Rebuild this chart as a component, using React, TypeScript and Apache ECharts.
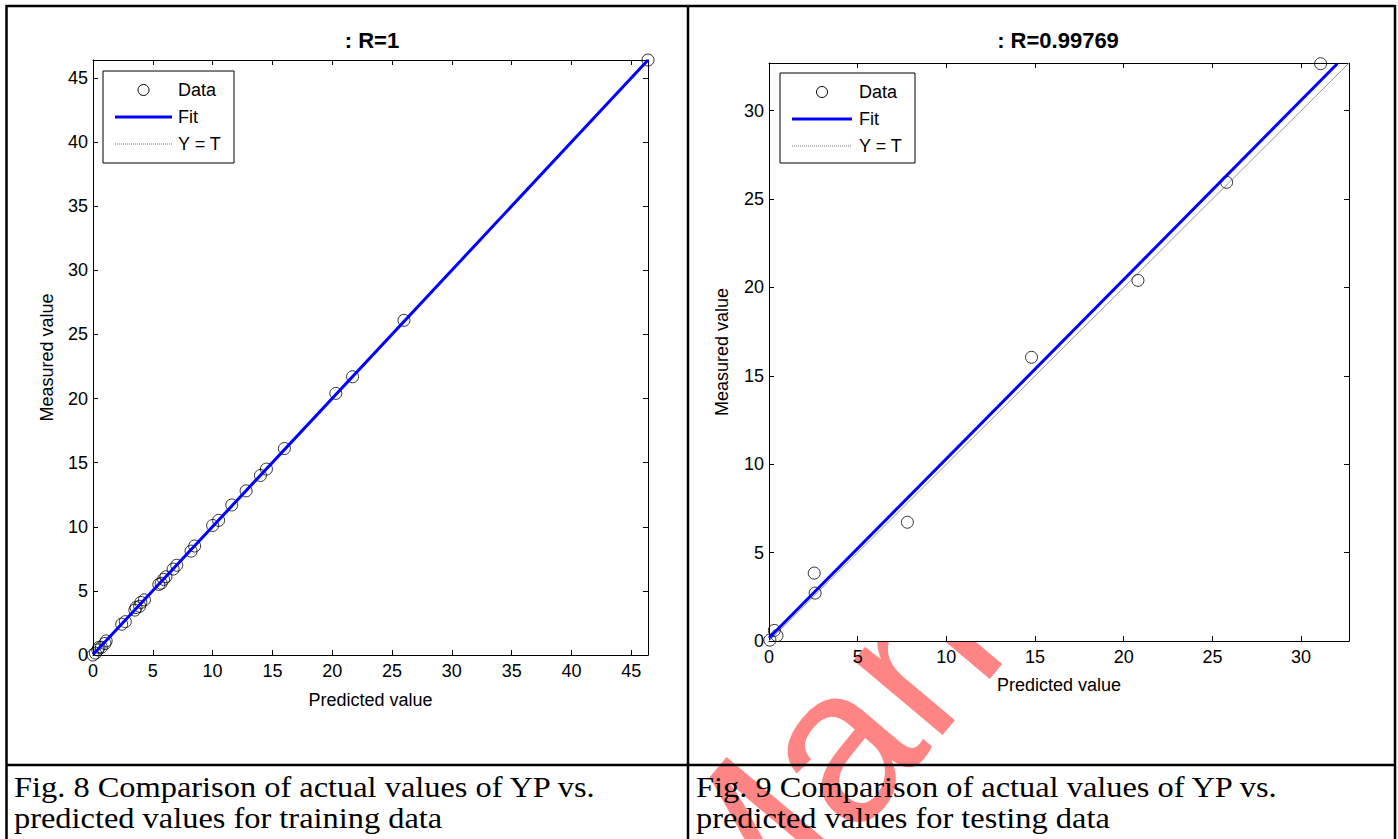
import React, { useEffect, useRef } from 'react';
import * as echarts from 'echarts';

// ---- Data ----
const trainPredicted = [0, 0.2, 0.4, 0.5, 0.7, 1.0, 1.1, 2.4, 2.7, 3.5, 3.6, 3.9, 4.0, 4.3, 5.5, 5.7, 5.9, 6.1, 6.7, 7.0, 8.2, 8.5, 10.0, 10.5, 11.6, 12.8, 14.0, 14.5, 16.0, 20.3, 21.7, 26.0, 46.4];
const trainMeasured = [0, 0.15, 0.4, 0.6, 0.6, 0.9, 1.1, 2.4, 2.6, 3.5, 3.7, 3.8, 4.1, 4.3, 5.5, 5.6, 5.9, 6.1, 6.7, 7.0, 8.1, 8.5, 10.1, 10.5, 11.7, 12.8, 14.0, 14.5, 16.1, 20.4, 21.7, 26.1, 46.4];
const trainFitT = [0, 46.4];
const trainFitY = [0.02, 46.4];
const trainRange = [0, 46.4];

const testPredicted = [0.05, 0.3, 0.45, 2.55, 2.6, 7.8, 14.8, 20.8, 25.8, 31.1];
const testMeasured = [0.05, 0.6, 0.3, 3.84, 2.71, 6.72, 16.05, 20.4, 25.95, 32.66];
const testFitT = [0, 32.04];
const testFitY = [0.17, 32.66];
const testRange = [0, 32.7];

const tickInterval = 5;
const titles = [': R=1', ': R=0.99769'];
const legendLabels = ['Data', 'Fit', 'Y = T'];
const xAxisName = 'Predicted value';
const yAxisName = 'Measured value';
const captions = [
  ['Fig. 8 Comparison of actual values of YP vs.', 'predicted values for training data'],
  ['Fig. 9 Comparison of actual values of YP vs.', 'predicted values for testing data'],
];
const watermarkText = 'Manu';

const SANS = '"Liberation Sans", Arial, sans-serif';
const SERIF = '"Liberation Serif", "Times New Roman", serif';

function pairs(a: number[], b: number[]) {
  return a.map((v, i) => [v, b[i]]);
}

function makeAxes(gridIndex: number, range: number[], xGap: number, yGap: number) {
  const common: any = {
    type: 'value',
    gridIndex,
    min: range[0],
    max: range[1],
    interval: tickInterval,
    splitLine: { show: false },
    axisLine: { show: true, onZero: false, lineStyle: { color: '#000', width: 1 } },
    axisTick: { show: true, inside: true, length: 5, lineStyle: { color: '#000', width: 1 } },
  };
  const labelStyle = { color: '#000', fontSize: 18, fontFamily: SANS, showMaxLabel: false };
  const nameStyle = { color: '#000', fontSize: 18, fontFamily: SANS };
  const x = [
    { ...common, position: 'bottom', name: xAxisName, nameLocation: 'middle', nameGap: xGap, nameTextStyle: nameStyle, axisLabel: { ...labelStyle, margin: 7 } },
    { ...common, position: 'top', axisLabel: { show: false } },
  ];
  const y = [
    { ...common, position: 'left', name: yAxisName, nameLocation: 'middle', nameGap: yGap, nameTextStyle: nameStyle, axisLabel: { ...labelStyle, margin: 5 } },
    { ...common, position: 'right', axisLabel: { show: false } },
  ];
  return { x, y };
}

function makeSeries(axisIndex: number, range: number[], pts: number[][], fit: number[][]) {
  return [
    {
      type: 'line', xAxisIndex: axisIndex, yAxisIndex: axisIndex, z: 2,
      data: [[range[0], range[0]], [range[1], range[1]]],
      showSymbol: false, symbol: 'none',
      lineStyle: { color: '#9a9a9a', width: 1 },
    },
    {
      type: 'scatter', xAxisIndex: axisIndex, yAxisIndex: axisIndex, z: 3,
      data: pts, symbol: 'circle', symbolSize: 12,
      itemStyle: { color: 'rgba(0,0,0,0)', borderColor: '#000', borderWidth: 1 },
    },
    {
      type: 'line', xAxisIndex: axisIndex, yAxisIndex: axisIndex, z: 4,
      data: fit, showSymbol: false, symbol: 'none',
      lineStyle: { color: '#0000ff', width: 3 },
    },
  ];
}

function legendGroup(bx: number, by: number, bw: number, bh: number, lineX0: number, lineX1: number, textX: number) {
  const markX = (lineX0 + lineX1) / 2;
  const rows = [by + 19, by + 46, by + 73];
  return {
    type: 'group', z: 20,
    children: [
      { type: 'rect', z: 20, shape: { x: bx, y: by, width: bw, height: bh }, style: { fill: '#fff', stroke: '#000', lineWidth: 1 } },
      { type: 'circle', z: 21, shape: { cx: markX, cy: rows[0], r: 5.5 }, style: { fill: 'none', stroke: '#000', lineWidth: 1 } },
      { type: 'line', z: 21, shape: { x1: lineX0, y1: rows[1], x2: lineX1, y2: rows[1] }, style: { stroke: '#0000ff', lineWidth: 3 } },
      { type: 'line', z: 21, shape: { x1: lineX0, y1: rows[2], x2: lineX1, y2: rows[2] }, style: { stroke: '#777', lineWidth: 1, lineDash: [1, 1] } },
      ...legendLabels.map((t, i) => ({
        type: 'text', z: 21, x: textX, y: rows[i],
        style: { text: t, fill: '#000', fontSize: 18, fontFamily: SANS, textAlign: 'left', align: 'left', textVerticalAlign: 'middle', verticalAlign: 'middle' },
      })),
    ],
  };
}

function captionTexts(x: number, lines: string[]) {
  return lines.map((t, i) => ({
    type: 'text', z: 10, x, y: 787 + i * 31, scaleX: 1.08, scaleY: 1,
    style: { text: t, fill: '#000', fontSize: 30, fontFamily: SERIF, textAlign: 'left', align: 'left', textVerticalAlign: 'middle', verticalAlign: 'middle' },
  }));
}

export default function App() {
  const ref = useRef<HTMLDivElement>(null);
  useEffect(() => {
    if (!ref.current) return;
    const chart = echarts.init(ref.current, null, { renderer: 'svg' });
    const a0 = makeAxes(0, trainRange, 36, 37);
    const a1 = makeAxes(1, testRange, 35, 38);
    const lineStyle = { stroke: '#000', lineWidth: 2.5 };
    const option: any = {
      animation: false,
      backgroundColor: '#fff',
      grid: [
        { left: 93, top: 60, width: 555, height: 595, show: true, backgroundColor: '#fff', borderWidth: 0, containLabel: false },
        { left: 769, top: 63, width: 580, height: 578, show: true, backgroundColor: '#fff', borderWidth: 0, containLabel: false },
      ],
      xAxis: [...a0.x, ...a1.x],
      yAxis: [...a0.y, ...a1.y],
      series: [
        ...makeSeries(0, trainRange, pairs(trainPredicted, trainMeasured), pairs(trainFitT, trainFitY)),
        ...makeSeries(2, testRange, pairs(testPredicted, testMeasured), pairs(testFitT, testFitY)),
      ],
      graphic: [
        {
          type: 'text', z: -5, x: 678, y: 932, rotation: (50 * Math.PI) / 180,
          style: { text: watermarkText, fill: 'rgba(255,0,0,0.48)', fontSize: 220, fontFamily: SANS, textAlign: 'left', align: 'left', textVerticalAlign: 'middle', verticalAlign: 'middle' },
        },
        // table
        { type: 'line', z: 10, shape: { x1: 6, y1: 6, x2: 1395, y2: 6 }, style: lineStyle },
        { type: 'line', z: 10, shape: { x1: 6.5, y1: 5, x2: 6.5, y2: 845 }, style: lineStyle },
        { type: 'line', z: 10, shape: { x1: 1395, y1: 5, x2: 1395, y2: 845 }, style: lineStyle },
        { type: 'line', z: 10, shape: { x1: 688, y1: 5, x2: 688, y2: 845 }, style: lineStyle },
        { type: 'line', z: 10, shape: { x1: 6, y1: 765, x2: 1395, y2: 765 }, style: lineStyle },
        // titles
        { type: 'text', z: 10, x: 372, y: 40, style: { text: titles[0], fill: '#000', fontSize: 22, fontWeight: 'bold', fontFamily: SANS, textAlign: 'center', align: 'center', textVerticalAlign: 'middle', verticalAlign: 'middle' } },
        { type: 'text', z: 10, x: 1058, y: 40, style: { text: titles[1], fill: '#000', fontSize: 22, fontWeight: 'bold', fontFamily: SANS, textAlign: 'center', align: 'center', textVerticalAlign: 'middle', verticalAlign: 'middle' } },
        legendGroup(103, 71, 131, 92, 115, 172, 178),
        legendGroup(780, 73, 135, 90, 792, 852, 859),
        ...captionTexts(14, captions[0]),
        ...captionTexts(696, captions[1]),
      ],
    };
    chart.setOption(option);
    return () => chart.dispose();
  }, []);
  return <div ref={ref} style={{ position: 'fixed', left: 0, top: 0, width: 1398, height: 839, background: '#fff' }} />;
}
